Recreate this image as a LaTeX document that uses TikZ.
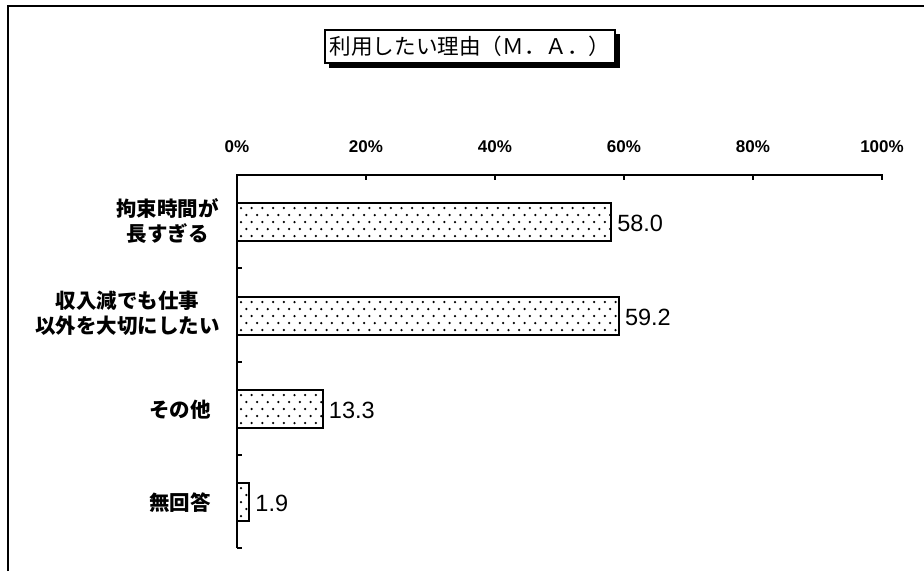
\documentclass[tikz,border=0pt]{standalone}
\usepackage{fontspec}
\setmainfont{Liberation Sans}
\newfontfamily\jp{Noto Sans CJK JP}
\begin{document}
\begin{tikzpicture}[x=1pt,y=-1pt,
  frameline/.style={line width=1.5pt},
  axisline/.style={line width=1.3pt},
  barline/.style={draw, line width=1.8pt},
  pct/.style={font=\bfseries\fontsize{17}{19}\selectfont, inner sep=0pt},
  val/.style={font=\fontsize{23.5}{26}\selectfont, inner sep=0pt, anchor=west},
  cat/.style={font=\jp\bfseries\fontsize{20.5}{25}\selectfont, align=center, inner sep=0pt, anchor=east}]
\useasboundingbox (0,0) rectangle (924,571);
% outer frame
\draw[frameline] (8,571) -- (8,6) -- (924,6);
% title with shadow
\coordinate (tl) at (325,30);
\coordinate (br) at (615,63);
\fill (329,34) rectangle (620,68);
\draw[fill=white, line width=1.3pt] (tl) rectangle (br);
\node[inner sep=0pt, font=\jp\fontsize{21.6}{24}\selectfont] (title) at (470,46.5) {利用したい理由（Ｍ．Ａ．）};
% axes
\coordinate (o) at (237,175);
\coordinate (ybot) at (237,548);
\coordinate (xend) at (882,175);
\draw[axisline] (ybot) -- (o) -- (xend) -- ++(0,5);
\foreach \v in {20,40,60,80} \draw[axisline] ({237+6.45*\v},175) -- ++(0,5);
\foreach \y in {268,362,455,548} \draw[axisline] (237,\y) -- ++(5,0);
\foreach \v in {0,20,40,60,80,100} \node[pct] (p\v) at ({237+6.45*\v},147) {\v\%};
% bars
\foreach \n/\v/\cy/\lab/\lx/\ly in {a/58.0/222/{拘束時間が\\長すぎる}/219/220.5, b/59.2/316/{収入減でも仕事\\以外を大切にしたい}/220/313, c/13.3/409/{その他}/211/410, d/1.9/502/{無回答}/211/503} {
  \coordinate (bs\n) at (237,{\cy-19});
  \coordinate (be\n) at ({237+6.45*\v},{\cy+19});
  \coordinate (bm\n) at ({237+6.45*\v},{\cy+1.5});
  \begin{scope}
    \clip (bs\n) rectangle (be\n);
    \foreach \i in {0,...,4} \foreach \j in {0,...,37}
      \fill ({237+4+5.35*mod(\i,2)+10.7*\j}, {\cy-14+7*\i}) circle (1.25pt);
  \end{scope}
  \draw[barline] (bs\n) rectangle (be\n);
  \node[val] (v\n) at ([xshift=6pt]bm\n) {\v};
  \node[cat] (l\n) at (\lx,\ly) {\lab};
}
\end{tikzpicture}
\end{document}
